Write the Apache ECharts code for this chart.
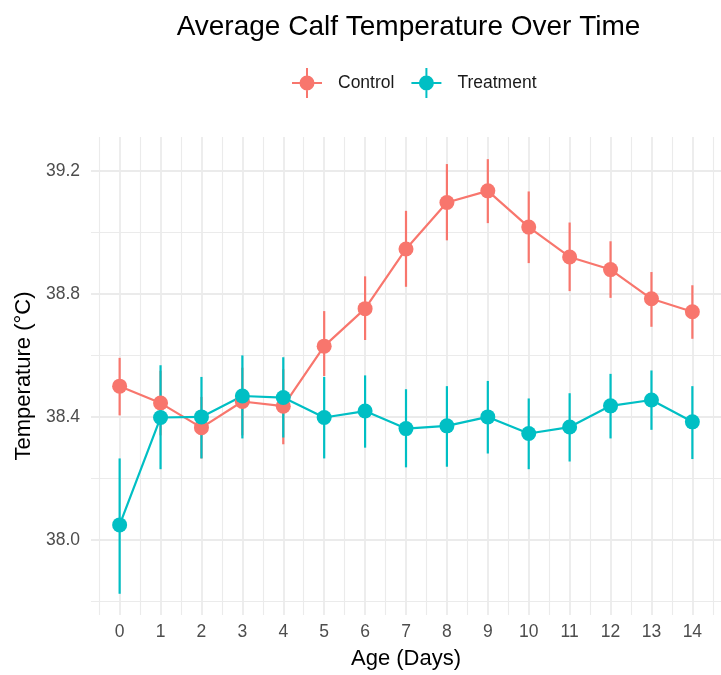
<!DOCTYPE html>
<html>
<head>
<meta charset="utf-8">
<script src="https://cdn.jsdelivr.net/npm/echarts@6/dist/echarts.min.js"></script>
<style>
  html, body { margin: 0; padding: 0; background: #fff; }
  #chart { width: 721px; height: 675px; }
</style>
</head>
<body>
<div id="chart"></div>
<script>
// age in days
var days = [0, 1, 2, 3, 4, 5, 6, 7, 8, 9, 10, 11, 12, 13, 14];

// control group: mean and error bar ends
var controlMean = [38.500, 38.445, 38.365, 38.450, 38.435, 38.630, 38.752, 38.946, 39.097, 39.135, 39.017, 38.920, 38.879, 38.784, 38.742];
var controlLow  = [38.405, 38.340, 38.265, 38.340, 38.311, 38.533, 38.650, 38.823, 38.974, 39.030, 38.900, 38.809, 38.787, 38.693, 38.654];
var controlHigh = [38.592, 38.550, 38.465, 38.560, 38.555, 38.744, 38.857, 39.070, 39.222, 39.238, 39.133, 39.032, 38.971, 38.871, 38.828];

// treatment group
var treatMean = [38.049, 38.398, 38.400, 38.468, 38.463, 38.398, 38.419, 38.362, 38.371, 38.400, 38.346, 38.367, 38.436, 38.455, 38.384];
var treatLow  = [37.825, 38.230, 38.265, 38.330, 38.333, 38.265, 38.300, 38.236, 38.238, 38.281, 38.230, 38.255, 38.330, 38.358, 38.263];
var treatHigh = [38.265, 38.568, 38.530, 38.600, 38.594, 38.530, 38.535, 38.490, 38.500, 38.517, 38.460, 38.477, 38.540, 38.551, 38.500];

// axis ticks
var yMajor = [38.0, 38.4, 38.8, 39.2];
var yMinor = [37.8, 38.2, 38.6, 39.0];
var xMinor = [-0.5, 0.5, 1.5, 2.5, 3.5, 4.5, 5.5, 6.5, 7.5, 8.5, 9.5, 10.5, 11.5, 12.5, 13.5, 14.5];

var RED = '#F8766D', TEAL = '#00BFC4';
var GRIDC = '#EBEBEB';
var FONT = '"Liberation Sans", Arial, sans-serif';

// pointrange legend key: cross + dot
var keyIcon = 'path://M0,14 L30,14 L30,16 L0,16 Z M14,0 L16,0 L16,30 L14,30 Z M22.5,15 A7.5,7.5 0 1,1 7.5,15 A7.5,7.5 0 1,1 22.5,15 Z';

function pairs(xs, ys) {
  return xs.map(function (x, i) { return [x, ys[i]]; });
}
function bars(xs, lo, hi) {
  return xs.map(function (x, i) { return [x, lo[i], hi[i]]; });
}
function errorBar(color) {
  return function (params, api) {
    var x = api.value(0);
    var a = api.coord([x, api.value(1)]);
    var b = api.coord([x, api.value(2)]);
    return {
      type: 'line',
      shape: { x1: a[0], y1: a[1], x2: b[0], y2: b[1] },
      style: { stroke: color, lineWidth: 2.2 }
    };
  };
}

var chart = echarts.init(document.getElementById('chart'));

var xRange = { min: -0.7, max: 14.7 };
var yRange = { min: 37.756, max: 39.31 };

chart.setOption({
  animation: false,
  textStyle: { fontFamily: FONT },
  grid: { left: 91, top: 137, width: 639, height: 480, containLabel: false },
  legend: {
    left: 287,
    top: 63,
    itemWidth: 30,
    itemHeight: 30,
    itemGap: 17,
    textStyle: { fontSize: 17.5, color: '#1a1a1a', fontFamily: FONT, padding: [0, 0, 0, 11] },
    data: [
      { name: 'Control', icon: keyIcon },
      { name: 'Treatment', icon: keyIcon }
    ]
  },
  graphic: [{
    type: 'text',
    x: 408.5,
    y: 27,
    style: {
      text: 'Average Calf Temperature Over Time',
      font: '28px ' + FONT,
      fill: '#000',
      textAlign: 'center',
      textVerticalAlign: 'middle'
    }
  }],
  xAxis: [{
    type: 'value',
    min: xRange.min, max: xRange.max,
    name: 'Age (Days)',
    nameLocation: 'middle',
    nameGap: 33,
    nameTextStyle: { fontSize: 22, color: '#000', fontFamily: FONT },
    axisLine: { show: false },
    axisTick: { show: false, customValues: days },
    axisLabel: { customValues: days, margin: 8, fontSize: 17.5, color: '#4D4D4D', fontFamily: FONT },
    splitLine: { show: true, lineStyle: { color: GRIDC, width: 1.8 } }
  }, {
    type: 'value',
    min: xRange.min, max: xRange.max,
    axisLine: { show: false },
    axisTick: { show: false, customValues: xMinor },
    axisLabel: { show: false },
    splitLine: { show: true, lineStyle: { color: GRIDC, width: 1.1 } }
  }],
  yAxis: [{
    type: 'value',
    min: yRange.min, max: yRange.max,
    name: 'Temperature (°C)',
    nameLocation: 'middle',
    nameGap: 55,
    nameTextStyle: { fontSize: 22, color: '#000', fontFamily: FONT },
    axisLine: { show: false },
    axisTick: { show: false, customValues: yMajor },
    axisLabel: {
      customValues: yMajor, margin: 11, fontSize: 17.5, color: '#4D4D4D', fontFamily: FONT,
      formatter: function (v) { return v.toFixed(1); }
    },
    splitLine: { show: true, lineStyle: { color: GRIDC, width: 1.8 } }
  }, {
    type: 'value',
    min: yRange.min, max: yRange.max,
    axisLine: { show: false },
    axisTick: { show: false, customValues: yMinor },
    axisLabel: { show: false },
    splitLine: { show: true, lineStyle: { color: GRIDC, width: 1.1 } }
  }],
  series: [{
    name: 'Control',
    type: 'custom',
    renderItem: errorBar(RED),
    itemStyle: { color: RED },
    encode: { x: 0, y: [1, 2] },
    data: bars(days, controlLow, controlHigh)
  }, {
    name: 'Control',
    type: 'line',
    symbol: 'circle',
    symbolSize: 15,
    itemStyle: { color: RED },
    lineStyle: { color: RED, width: 2.2 },
    data: pairs(days, controlMean)
  }, {
    name: 'Treatment',
    type: 'custom',
    renderItem: errorBar(TEAL),
    itemStyle: { color: TEAL },
    encode: { x: 0, y: [1, 2] },
    data: bars(days, treatLow, treatHigh)
  }, {
    name: 'Treatment',
    type: 'line',
    symbol: 'circle',
    symbolSize: 15,
    itemStyle: { color: TEAL },
    lineStyle: { color: TEAL, width: 2.2 },
    data: pairs(days, treatMean)
  }]
});
</script>
</body>
</html>
